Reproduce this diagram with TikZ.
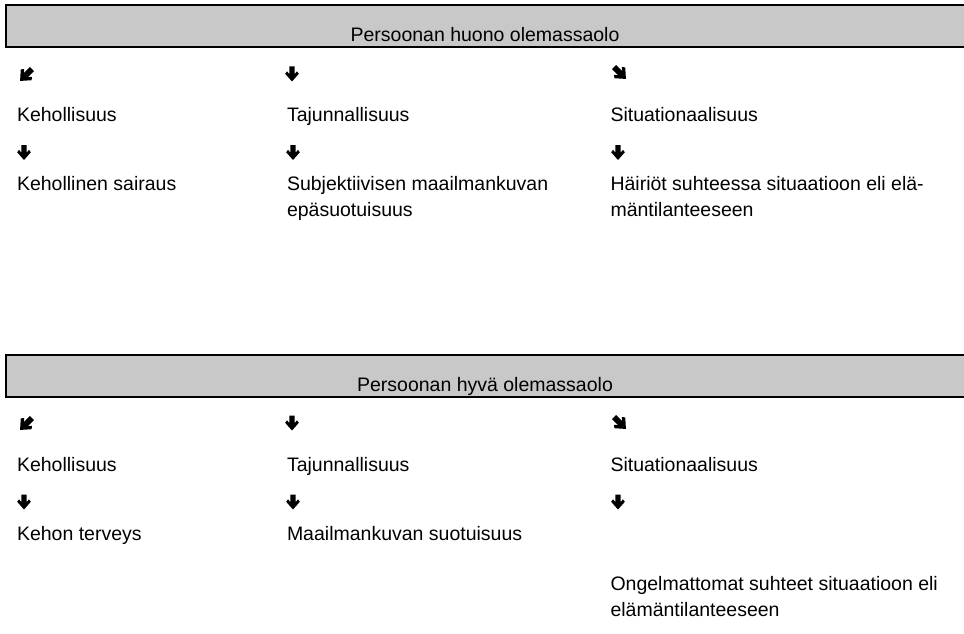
\documentclass[tikz,border=0pt]{standalone}
\usepackage{fontspec}
\setmainfont{Liberation Sans}
\begin{document}
\begin{tikzpicture}[x=1pt,y=-1pt,
  every node/.style={inner sep=0pt,outer sep=0pt,font=\fontsize{19.5}{26}\selectfont},
  item/.style={anchor=base west,align=left},
  headbox/.style={fill=headgray,minimum width=958pt,minimum height=42pt,anchor=north west},
  headtext/.style={anchor=base},
  boxedge/.style={line width=2pt,line cap=rect},
  % bold arrow glyph: shaft plus a thick chevron head
  darr/.pic={\fill (-2.6,-7.5) -- (2.6,-7.5) -- (2.6,0) -- (5,-2.6) -- (6.8,-0.2)
               -- (0,7.5) -- (-6.8,-0.2) -- (-5,-2.6) -- (-2.6,0) -- cycle;},
  diag/.style={scale=1.12}
]
\definecolor{headgray}{RGB}{200,200,200}
\useasboundingbox (0,0) rectangle (964,634);

% ---- upper block: poor well-being ----
\node[headbox] (hb1) at (6,5) {};
\draw[boxedge] (hb1.north east) -- (hb1.north west) -- (hb1.south west) -- (hb1.south east);
\node[headtext] (ht1) at (485,41.5) {Persoonan huono olemassaolo};

\pic (a1l) at (26,75) [diag,rotate=-45] {darr};
\pic (a1m) at (292,74) {darr};
\pic (a1r) at (620,73) [diag,rotate=45] {darr};

\node[item] (k1) at (17,121.7) {Kehollisuus};
\node[item] (t1) at (287,121.7) {Tajunnallisuus};
\node[item] (s1) at (610.5,121.7) {Situationaalisuus};

\pic (b1l) at (24,152.5) {darr};
\pic (b1m) at (293,152.5) {darr};
\pic (b1r) at (618,152.5) {darr};

% two-line entries are placed by the baseline of their last line
\node[item] (k1b) at (17,190.7) {Kehollinen sairaus};
\node[item] (t1b) at (287,216.7) {Subjektiivisen maailmankuvan\\epäsuotuisuus};
\node[item] (s1b) at (610.5,216.7) {Häiriöt suhteessa situaatioon eli elä-\\mäntilanteeseen};

% ---- lower block: good well-being ----
\node[headbox] (hb2) at (6,355) {};
\draw[boxedge] (hb2.north east) -- (hb2.north west) -- (hb2.south west) -- (hb2.south east);
\node[headtext] (ht2) at (485,391.3) {Persoonan hyvä olemassaolo};

\pic (a2l) at (26,424) [diag,rotate=-45] {darr};
\pic (a2m) at (292,423) {darr};
\pic (a2r) at (620,423) [diag,rotate=45] {darr};

\node[item] (k2) at (17,471.7) {Kehollisuus};
\node[item] (t2) at (287,471.7) {Tajunnallisuus};
\node[item] (s2) at (610.5,471.7) {Situationaalisuus};

\pic (b2l) at (24,502) {darr};
\pic (b2m) at (293,502) {darr};
\pic (b2r) at (618,502) {darr};

\node[item] (k2b) at (17,540.7) {Kehon terveys};
\node[item] (t2b) at (287,540.7) {Maailmankuvan suotuisuus};
\node[item] (s2b) at (610.5,616) {Ongelmattomat suhteet situaatioon eli\\elämäntilanteeseen};
\end{tikzpicture}
\end{document}
